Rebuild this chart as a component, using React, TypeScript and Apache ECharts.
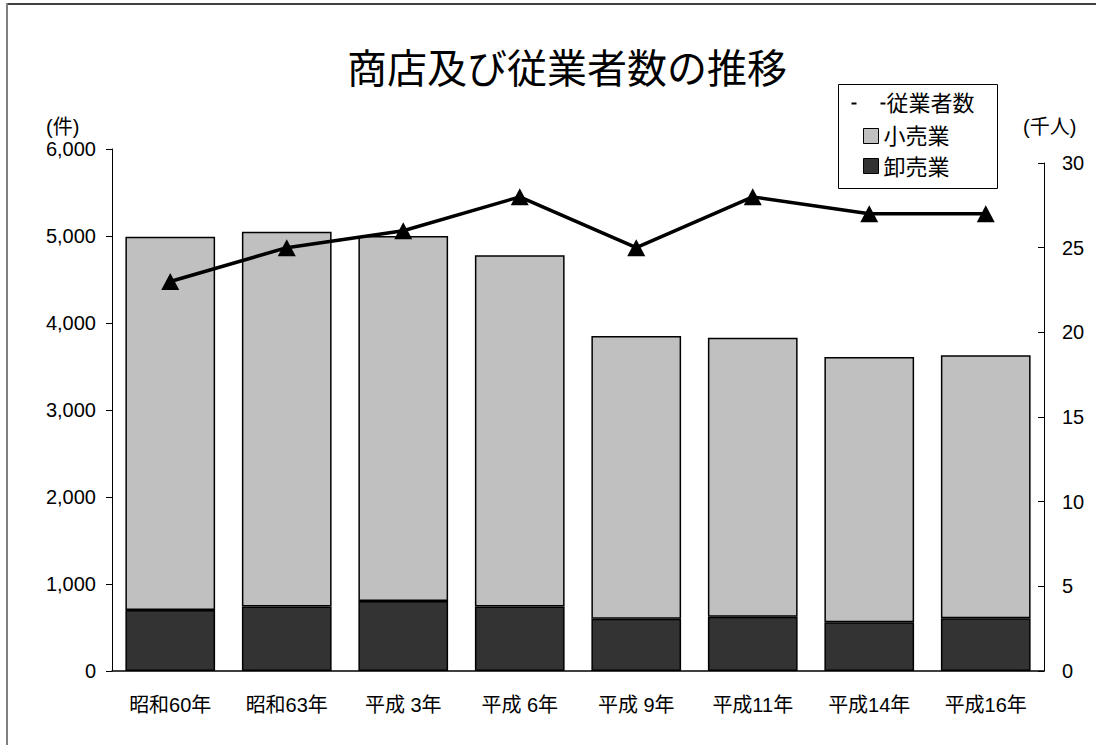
import React, { useEffect, useRef } from "react";
import * as echarts from "echarts";

const categories = ["昭和60年", "昭和63年", "平成 3年", "平成 6年", "平成 9年", "平成11年", "平成14年", "平成16年"];
const wholesale = [700, 740, 805, 740, 600, 625, 560, 605];
const retail = [4290, 4310, 4195, 4040, 3250, 3205, 3050, 3025];
const employees = [23, 25, 26, 28, 25, 28, 27, 27];
const leftTicks = { min: 0, max: 6000, interval: 1000 };
const rightTicks = { min: 0, max: 30, interval: 5 };

const FONT = "'Liberation Sans', 'Noto Sans CJK JP', sans-serif";

export default function App() {
  const ref = useRef<HTMLDivElement>(null);
  useEffect(() => {
    if (!ref.current) return;
    const chart = echarts.init(ref.current, undefined, { renderer: "svg" });
    const option: any = {
      animation: false,
      backgroundColor: "#ffffff",
      textStyle: { fontFamily: FONT, color: "#000" },
      title: {
        text: "商店及び従業者数の推移",
        left: 562,
        textAlign: "center",
        top: 44,
        textStyle: { fontFamily: FONT, fontSize: 40, fontWeight: "normal", color: "#000" },
      },
      grid: [
        { left: 112, right: 52, top: 149, bottom: 74, containLabel: false },
        { left: 112, right: 52, top: 163, bottom: 74, containLabel: false },
      ],
      xAxis: [
        {
          type: "category",
          gridIndex: 0,
          data: categories,
          axisLine: { lineStyle: { color: "#000", width: 1.5 } },
          axisTick: { inside: true, length: 6, lineStyle: { color: "#000" } },
          axisLabel: { color: "#000", fontSize: 20, fontFamily: FONT, margin: 24 },
        },
        {
          type: "category",
          gridIndex: 1,
          data: categories,
          show: false,
        },
      ],
      yAxis: [
        {
          type: "value",
          gridIndex: 0,
          min: leftTicks.min,
          max: leftTicks.max,
          interval: leftTicks.interval,
          axisLine: { show: true, lineStyle: { color: "#000", width: 1 } },
          axisTick: { show: true, length: 6, lineStyle: { color: "#000" } },
          splitLine: { show: false },
          axisLabel: {
            color: "#000",
            fontSize: 20,
            fontFamily: FONT,
            margin: 16,
            formatter: (v: number) => v.toLocaleString("en-US"),
          },
        },
        {
          type: "value",
          gridIndex: 1,
          position: "right",
          min: rightTicks.min,
          max: rightTicks.max,
          interval: rightTicks.interval,
          axisLine: { show: true, lineStyle: { color: "#000", width: 1 } },
          axisTick: { show: true, inside: true, length: 6, lineStyle: { color: "#000" } },
          splitLine: { show: false },
          axisLabel: { color: "#000", fontSize: 20, fontFamily: FONT, margin: 18 },
        },
      ],
      series: [
        {
          name: "卸売業",
          type: "bar",
          stack: "shops",
          xAxisIndex: 0,
          yAxisIndex: 0,
          data: wholesale,
          barCategoryGap: "23%",
          itemStyle: { color: "#333333", borderColor: "#000", borderWidth: 1.5 },
        },
        {
          name: "小売業",
          type: "bar",
          stack: "shops",
          xAxisIndex: 0,
          yAxisIndex: 0,
          data: retail,
          barCategoryGap: "23%",
          itemStyle: { color: "#c0c0c0", borderColor: "#000", borderWidth: 1.5 },
        },
        {
          name: "従業者数",
          type: "line",
          xAxisIndex: 1,
          yAxisIndex: 1,
          data: employees,
          symbol: "triangle",
          symbolSize: [18, 17],
          lineStyle: { color: "#000", width: 3.5 },
          itemStyle: { color: "#000" },
        },
      ],
      graphic: [
        { type: "line", shape: { x1: 6, y1: 4, x2: 1100, y2: 4 }, style: { stroke: "#404040", lineWidth: 2 } },
        { type: "line", shape: { x1: 7, y1: 3, x2: 7, y2: 750 }, style: { stroke: "#808080", lineWidth: 2 } },
        {
          type: "text",
          left: 46,
          top: 117,
          style: { text: "(件)", fontSize: 20, fontFamily: FONT, fill: "#000" },
        },
        {
          type: "text",
          left: 1023,
          top: 117,
          style: { text: "(千人)", fontSize: 20, fontFamily: FONT, fill: "#000" },
        },
        {
          type: "group",
          left: 838,
          top: 84,
          children: [
            { type: "rect", shape: { x: 0, y: 0, width: 159, height: 104 }, style: { fill: "#fff", stroke: "#000", lineWidth: 1 } },
            { type: "rect", shape: { x: 13, y: 18, width: 5, height: 2 }, style: { fill: "#000" } },
            { type: "rect", shape: { x: 42, y: 18, width: 5, height: 2 }, style: { fill: "#000" } },
            { type: "text", x: 48, y: 19, style: { text: "従業者数", fontSize: 22, fontFamily: FONT, fill: "#000", verticalAlign: "middle" } },
            { type: "rect", shape: { x: 25, y: 44, width: 15, height: 15 }, style: { fill: "#c0c0c0", stroke: "#000", lineWidth: 1 } },
            { type: "text", x: 45, y: 52, style: { text: "小売業", fontSize: 22, fontFamily: FONT, fill: "#000", verticalAlign: "middle" } },
            { type: "rect", shape: { x: 25, y: 74, width: 15, height: 15 }, style: { fill: "#333333", stroke: "#000", lineWidth: 1 } },
            { type: "text", x: 45, y: 83, style: { text: "卸売業", fontSize: 22, fontFamily: FONT, fill: "#000", verticalAlign: "middle" } },
          ],
        },
      ],
    };
    chart.setOption(option);
    return () => chart.dispose();
  }, []);
  return (
    <div
      ref={ref}
      style={{ position: "absolute", left: 0, top: 0, width: 1096, height: 745 }}
    />
  );
}
